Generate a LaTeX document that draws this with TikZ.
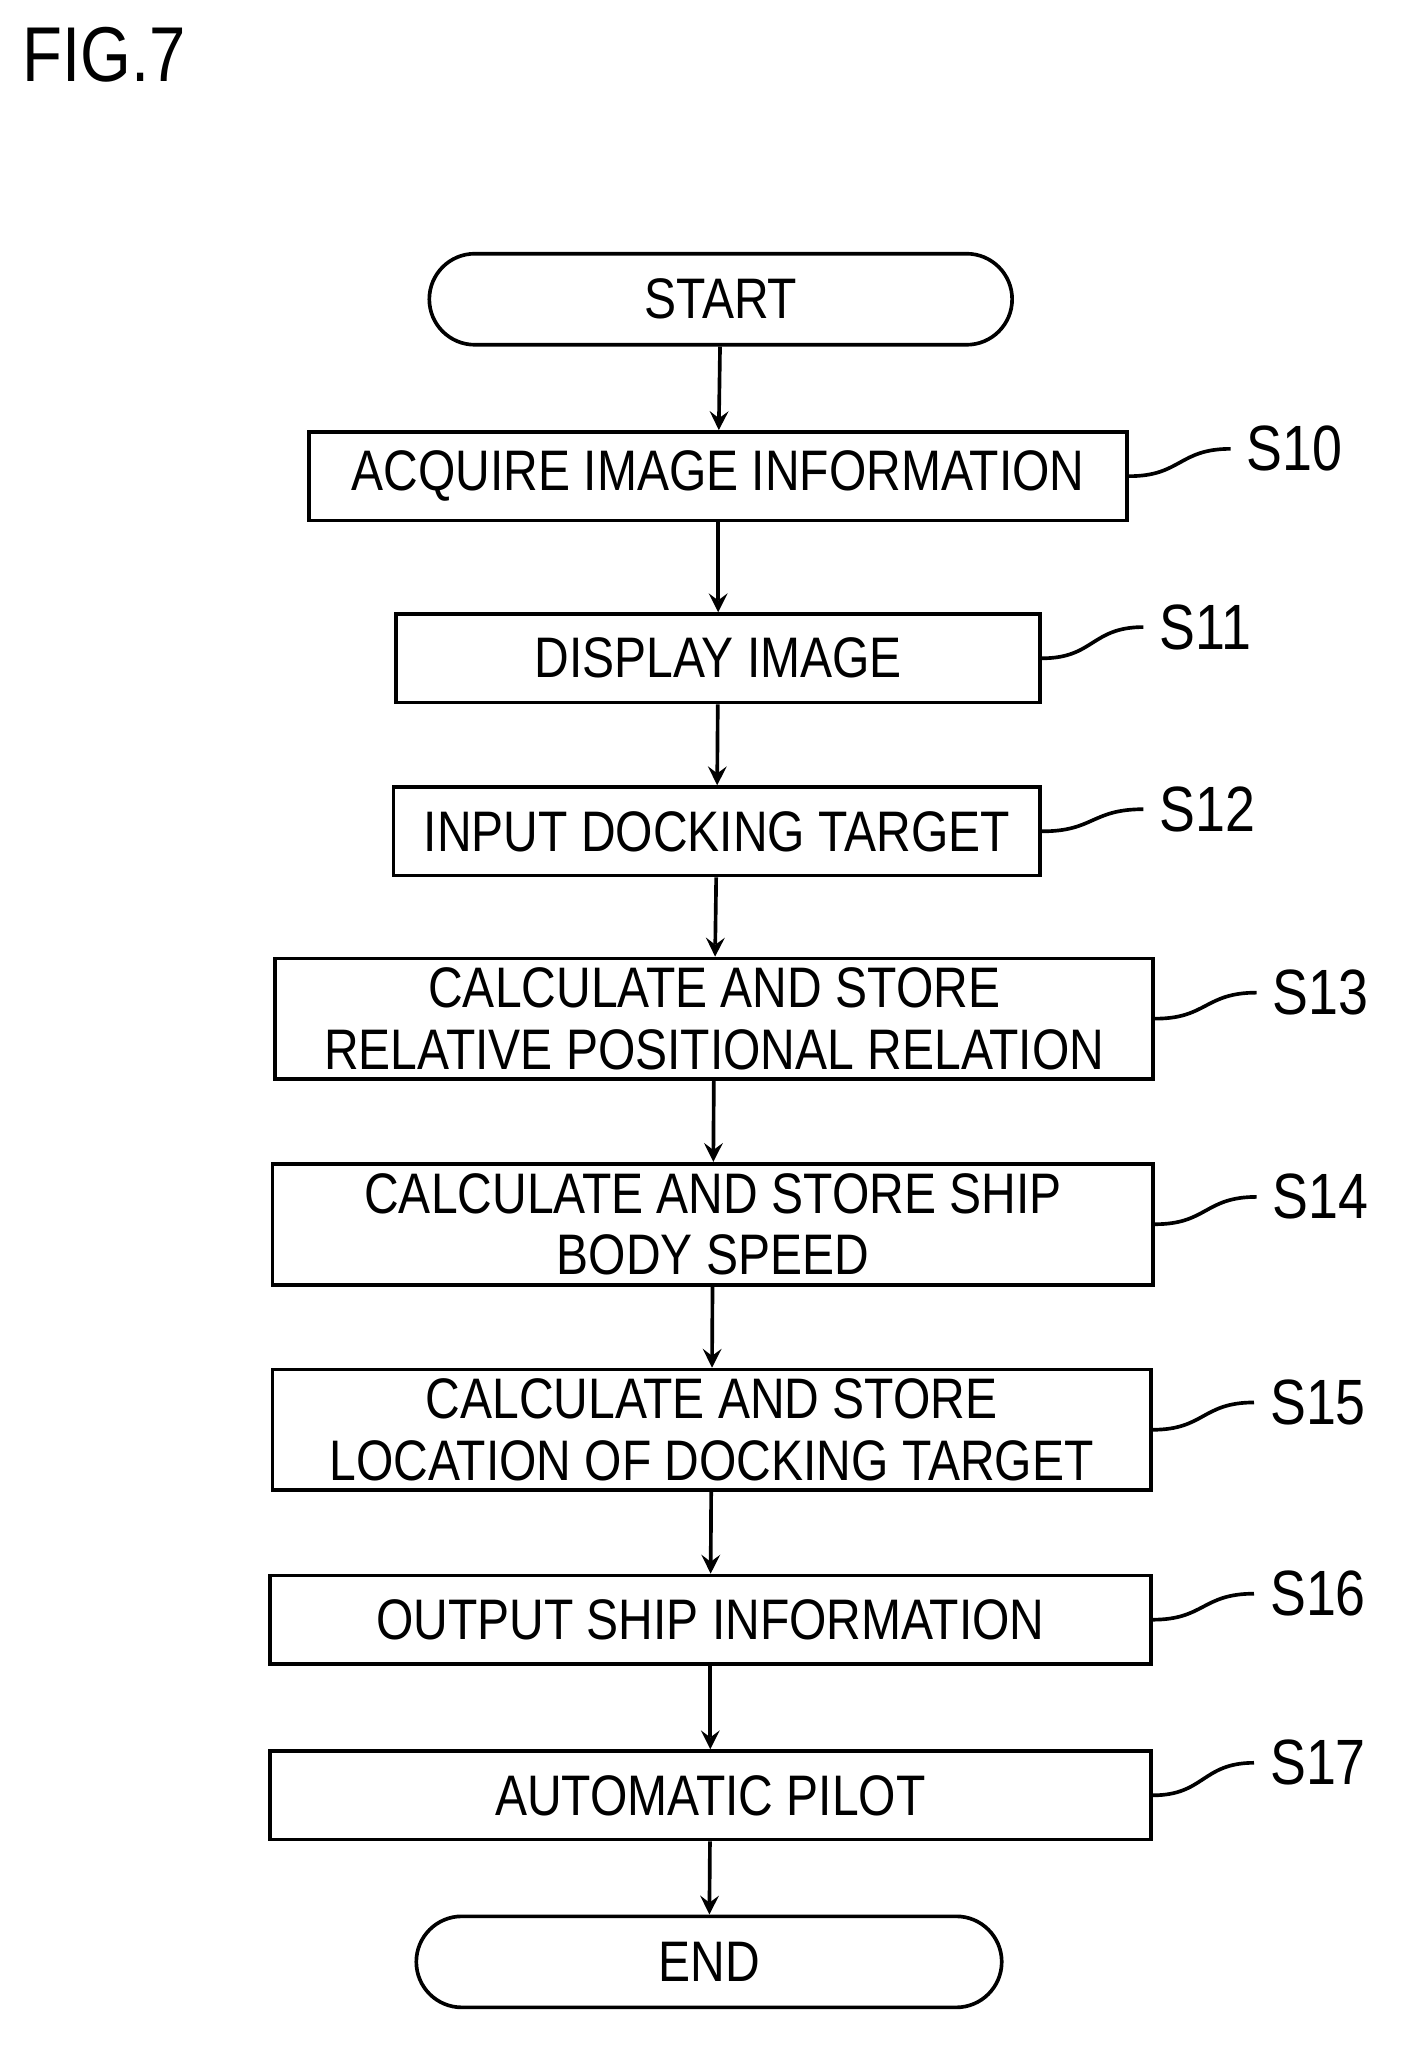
\documentclass[tikz,border=0pt]{standalone}
\usepackage{fontspec}
\setmainfont[FakeStretch=0.84]{Liberation Sans}
\usetikzlibrary{positioning}
\tikzset{>=stealth}
\tikzset{procbox/.style={draw, thick, minimum height=0.68cm, align=center, inner sep=2pt, font=\fontsize{12.5}{13.5}\selectfont},
  term/.style={draw, thick, rounded corners=0.35cm, minimum height=0.7cm, font=\fontsize{12.5}{13.5}\selectfont},
  tag/.style={font=\fontsize{14}{16}\selectfont, anchor=west},
  flow/.style={->, thick}}
\begin{document}
\begin{tikzpicture}
\useasboundingbox (0,0) rectangle (10.8,-15.75);
\node[font=\fontsize{17}{19}\selectfont] (fig) at (0.8,-0.42) {FIG.7};
\node[term, minimum width=4.48cm] (start) at (5.54,-2.30) {START};
\node[procbox, minimum width=6.29cm] (s10) at (5.52,-3.66) {ACQUIRE IMAGE INFORMATION};
\node[procbox, minimum width=4.95cm] (s11) at (5.52,-5.06) {DISPLAY IMAGE};
\node[procbox, minimum width=4.97cm] (s12) at (5.51,-6.39) {INPUT DOCKING TARGET};
\node[procbox, minimum width=6.75cm, minimum height=0.9cm] (s13) at (5.49,-7.83) {CALCULATE AND STORE\\RELATIVE POSITIONAL RELATION};
\node[procbox, minimum width=6.77cm, minimum height=0.93cm] (s14) at (5.48,-9.41) {CALCULATE AND STORE SHIP\\BODY SPEED};
\node[procbox, minimum width=6.75cm, minimum height=0.92cm] (s15) at (5.47,-10.99) {CALCULATE AND STORE\\LOCATION OF DOCKING TARGET};
\node[procbox, minimum width=6.77cm] (s16) at (5.46,-12.45) {OUTPUT SHIP INFORMATION};
\node[procbox, minimum width=6.77cm] (s17) at (5.46,-13.80) {AUTOMATIC PILOT};
\node[term, minimum width=4.5cm] (end) at (5.45,-15.08) {END};
% arrows
\draw[flow] (start) -- (s10);
\draw[flow] (s10) -- (s11);
\draw[flow] (s11) -- (s12);
\draw[flow] (s12) -- (s13);
\draw[flow] (s13) -- (s14);
\draw[flow] (s14) -- (s15);
\draw[flow] (s15) -- (s16);
\draw[flow] (s16) -- (s17);
\draw[flow] (s17) -- (end);
% step labels
\foreach \s/\lab/\ly in {s10/S10/-3.45, s11/S11/-4.82, s12/S12/-6.22, s13/S13/-7.63, s14/S14/-9.20, s15/S15/-10.78, s16/S16/-12.25, s17/S17/-13.55} {
  \coordinate (\s t) at ([xshift=0.78cm]\s.east |- 0,\ly);
  \node[tag] (\s l) at (\s t) {\lab};
  \draw[thick] (\s.east) .. controls +(0.4,0) and +(-0.4,0) .. (\s t);
}
\end{tikzpicture}
\end{document}
